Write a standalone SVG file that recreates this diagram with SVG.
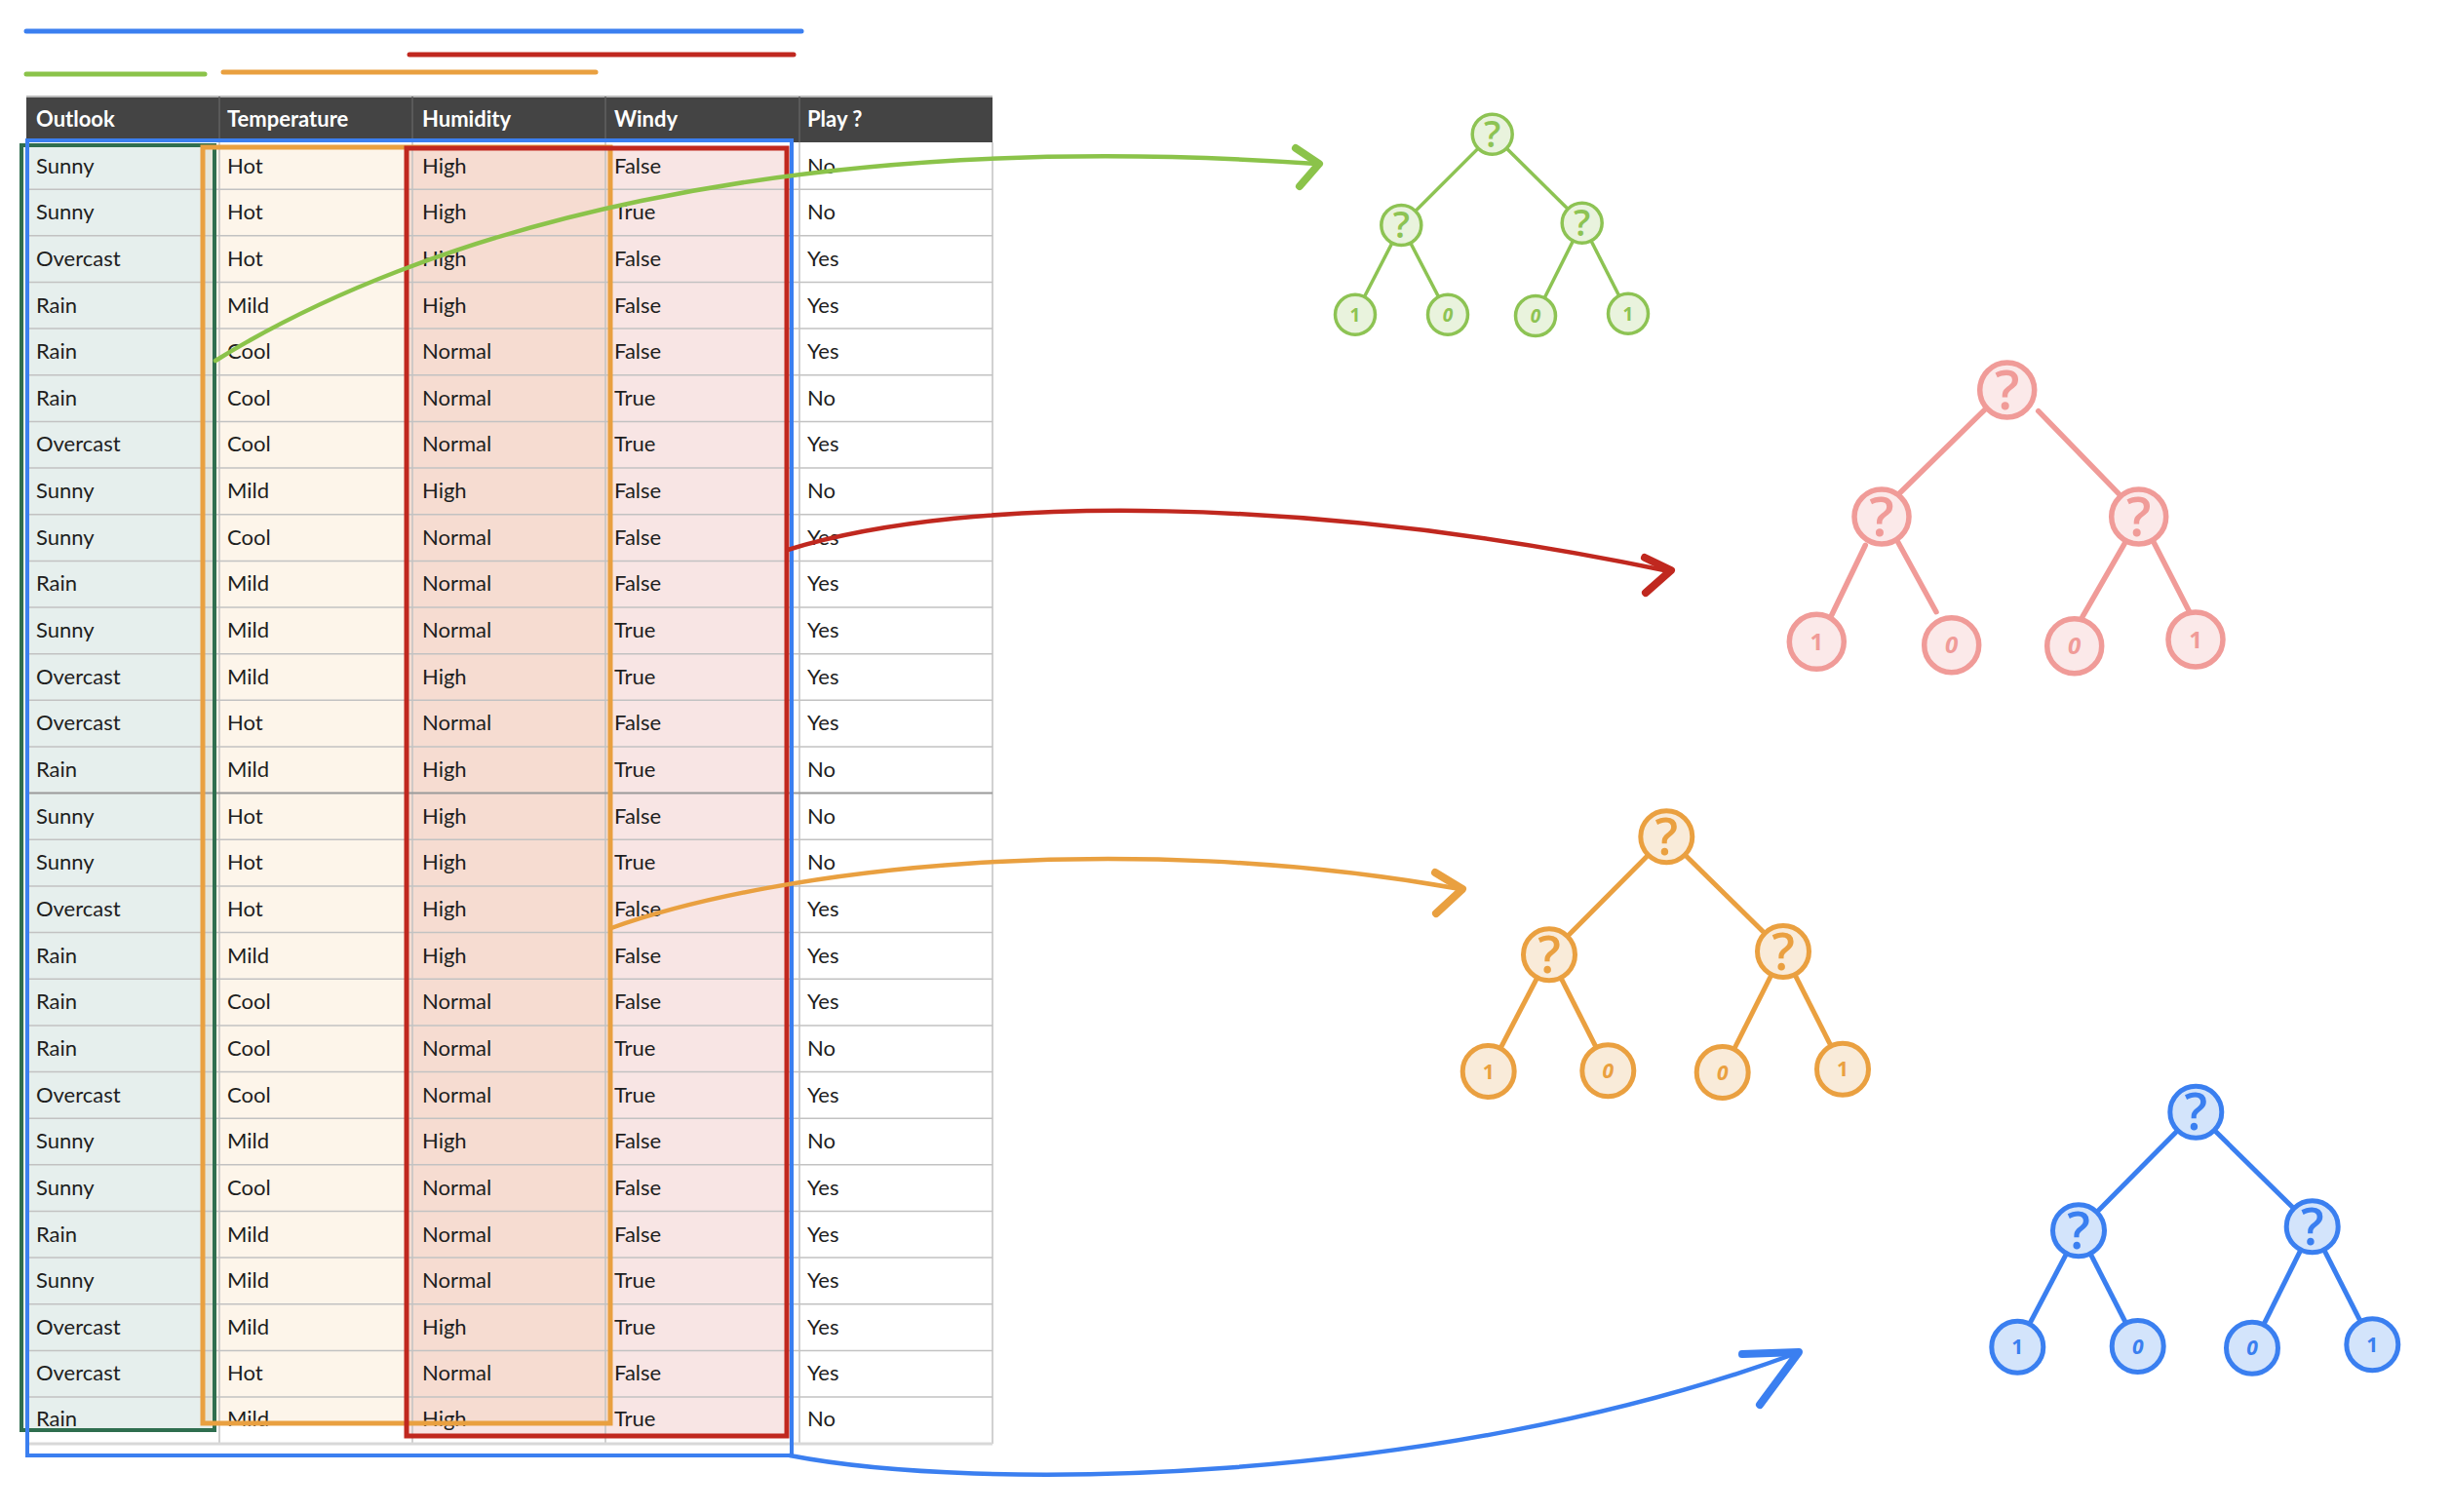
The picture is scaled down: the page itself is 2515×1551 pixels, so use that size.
<svg xmlns="http://www.w3.org/2000/svg" width="2515" height="1551" viewBox="0 0 2515 1551">
<style>
.cell{font-family:Lato,"Open Sans","Liberation Sans",sans-serif;font-size:22px;fill:#1e1e1e}
.hd{font-family:Lato,"Open Sans","Liberation Sans",sans-serif;font-size:22px;font-weight:700;fill:#ffffff}
.grid{stroke:#c2c2c2;stroke-width:1.5;fill:none}
.bar{fill:none;stroke-width:5;stroke-linecap:round}
.box{fill:none;stroke-linejoin:miter}
.curve{fill:none;stroke-width:4.5;stroke-linecap:round}
.head{fill:none;stroke-width:8;stroke-linecap:round;stroke-linejoin:round}
.t{font-family:"Open Sans","Liberation Sans",sans-serif;text-anchor:middle}
.tq{font-weight:600}
.tl{font-weight:700}
.gr circle{fill:#e9f3dd;stroke:#8dc353;stroke-width:3.5}
.gr text{fill:#8dc353}
.pk circle{fill:#fbe9e9;stroke:#f09b98;stroke-width:5.5}
.pk text{fill:#f09b98}
.or circle{fill:#f9ebd9;stroke:#eaa040;stroke-width:5}
.or text{fill:#eaa040}
.bl circle{fill:#d3e4fb;stroke:#3a7ff0;stroke-width:5}
.bl text{fill:#3a7ff0}
</style>

<rect width="2515" height="1551" fill="#ffffff"/>

<!-- top colour bars -->
<g id="bars">
<line class="bar" x1="27" y1="32" x2="822" y2="32" stroke="#3b7ff0"/>
<line class="bar" x1="420" y1="56" x2="814" y2="56" stroke="#c0281f"/>
<line class="bar" x1="27" y1="76" x2="210" y2="76" stroke="#8bc34a"/>
<line class="bar" x1="229" y1="74" x2="611" y2="74" stroke="#e9a040"/>
</g>

<g id="table">
<!-- header -->
<rect x="27" y="99" width="991" height="47" fill="#444444"/>
<line x1="27" y1="99" x2="1018" y2="99" stroke="#bbbbbb" stroke-width="2"/>
<path d="M225,99V146M423,99V146M621,99V146M820,99V146" stroke="#606060" stroke-width="1.5"/>
<text class="hd" x="37" y="130">Outlook</text>
<text class="hd" x="233" y="130">Temperature</text>
<text class="hd" x="433" y="130">Humidity</text>
<text class="hd" x="630" y="130">Windy</text>
<text class="hd" x="828" y="130">Play ?</text>

<!-- column highlight fills -->
<rect x="22" y="149" width="198" height="1318" fill="#e6efed"/>
<rect x="208" y="151" width="418" height="1309" fill="#f0a040" fill-opacity="0.11"/>
<rect x="417" y="152" width="390" height="1321" fill="#c8281e" fill-opacity="0.12"/>

<!-- grid -->
<path class="grid" d="M27,194.2H1018M27,241.8H1018M27,289.5H1018M27,337.1H1018M27,384.8H1018M27,432.4H1018M27,480.1H1018M27,527.7H1018M27,575.4H1018M27,623H1018M27,670.7H1018M27,718.3H1018M27,766H1018M27,861.3H1018M27,908.9H1018M27,956.6H1018M27,1004.2H1018M27,1051.9H1018M27,1099.5H1018M27,1147.2H1018M27,1194.8H1018M27,1242.5H1018M27,1290.1H1018M27,1337.8H1018M27,1385.4H1018M27,1433.1H1018"/>
<path class="grid" d="M27,146V1481M225,146V1481M423,146V1481M621,146V1481M820,146V1481M1018,146V1481"/>
<line x1="27" y1="813.6" x2="1018" y2="813.6" stroke="#9a9a9a" stroke-width="2"/>
<line x1="27" y1="1481" x2="1018" y2="1481" stroke="#d8d8d8" stroke-width="3"/>

<!-- rows -->
<g id="row-1"><text class="cell" x="37" y="177.5">Sunny</text><text class="cell" x="233" y="177.5">Hot</text><text class="cell" x="433" y="177.5">High</text><text class="cell" x="630" y="177.5">False</text><text class="cell" x="828" y="177.5">No</text></g>
<g id="row-2"><text class="cell" x="37" y="225.2">Sunny</text><text class="cell" x="233" y="225.2">Hot</text><text class="cell" x="433" y="225.2">High</text><text class="cell" x="630" y="225.2">True</text><text class="cell" x="828" y="225.2">No</text></g>
<g id="row-3"><text class="cell" x="37" y="272.8">Overcast</text><text class="cell" x="233" y="272.8">Hot</text><text class="cell" x="433" y="272.8">High</text><text class="cell" x="630" y="272.8">False</text><text class="cell" x="828" y="272.8">Yes</text></g>
<g id="row-4"><text class="cell" x="37" y="320.5">Rain</text><text class="cell" x="233" y="320.5">Mild</text><text class="cell" x="433" y="320.5">High</text><text class="cell" x="630" y="320.5">False</text><text class="cell" x="828" y="320.5">Yes</text></g>
<g id="row-5"><text class="cell" x="37" y="368.1">Rain</text><text class="cell" x="233" y="368.1">Cool</text><text class="cell" x="433" y="368.1">Normal</text><text class="cell" x="630" y="368.1">False</text><text class="cell" x="828" y="368.1">Yes</text></g>
<g id="row-6"><text class="cell" x="37" y="415.8">Rain</text><text class="cell" x="233" y="415.8">Cool</text><text class="cell" x="433" y="415.8">Normal</text><text class="cell" x="630" y="415.8">True</text><text class="cell" x="828" y="415.8">No</text></g>
<g id="row-7"><text class="cell" x="37" y="463.4">Overcast</text><text class="cell" x="233" y="463.4">Cool</text><text class="cell" x="433" y="463.4">Normal</text><text class="cell" x="630" y="463.4">True</text><text class="cell" x="828" y="463.4">Yes</text></g>
<g id="row-8"><text class="cell" x="37" y="511.1">Sunny</text><text class="cell" x="233" y="511.1">Mild</text><text class="cell" x="433" y="511.1">High</text><text class="cell" x="630" y="511.1">False</text><text class="cell" x="828" y="511.1">No</text></g>
<g id="row-9"><text class="cell" x="37" y="558.7">Sunny</text><text class="cell" x="233" y="558.7">Cool</text><text class="cell" x="433" y="558.7">Normal</text><text class="cell" x="630" y="558.7">False</text><text class="cell" x="828" y="558.7">Yes</text></g>
<g id="row-10"><text class="cell" x="37" y="606.4">Rain</text><text class="cell" x="233" y="606.4">Mild</text><text class="cell" x="433" y="606.4">Normal</text><text class="cell" x="630" y="606.4">False</text><text class="cell" x="828" y="606.4">Yes</text></g>
<g id="row-11"><text class="cell" x="37" y="654">Sunny</text><text class="cell" x="233" y="654">Mild</text><text class="cell" x="433" y="654">Normal</text><text class="cell" x="630" y="654">True</text><text class="cell" x="828" y="654">Yes</text></g>
<g id="row-12"><text class="cell" x="37" y="701.7">Overcast</text><text class="cell" x="233" y="701.7">Mild</text><text class="cell" x="433" y="701.7">High</text><text class="cell" x="630" y="701.7">True</text><text class="cell" x="828" y="701.7">Yes</text></g>
<g id="row-13"><text class="cell" x="37" y="749.3">Overcast</text><text class="cell" x="233" y="749.3">Hot</text><text class="cell" x="433" y="749.3">Normal</text><text class="cell" x="630" y="749.3">False</text><text class="cell" x="828" y="749.3">Yes</text></g>
<g id="row-14"><text class="cell" x="37" y="797">Rain</text><text class="cell" x="233" y="797">Mild</text><text class="cell" x="433" y="797">High</text><text class="cell" x="630" y="797">True</text><text class="cell" x="828" y="797">No</text></g>
<g id="row-15"><text class="cell" x="37" y="844.6">Sunny</text><text class="cell" x="233" y="844.6">Hot</text><text class="cell" x="433" y="844.6">High</text><text class="cell" x="630" y="844.6">False</text><text class="cell" x="828" y="844.6">No</text></g>
<g id="row-16"><text class="cell" x="37" y="892.3">Sunny</text><text class="cell" x="233" y="892.3">Hot</text><text class="cell" x="433" y="892.3">High</text><text class="cell" x="630" y="892.3">True</text><text class="cell" x="828" y="892.3">No</text></g>
<g id="row-17"><text class="cell" x="37" y="939.9">Overcast</text><text class="cell" x="233" y="939.9">Hot</text><text class="cell" x="433" y="939.9">High</text><text class="cell" x="630" y="939.9">False</text><text class="cell" x="828" y="939.9">Yes</text></g>
<g id="row-18"><text class="cell" x="37" y="987.6">Rain</text><text class="cell" x="233" y="987.6">Mild</text><text class="cell" x="433" y="987.6">High</text><text class="cell" x="630" y="987.6">False</text><text class="cell" x="828" y="987.6">Yes</text></g>
<g id="row-19"><text class="cell" x="37" y="1035.2">Rain</text><text class="cell" x="233" y="1035.2">Cool</text><text class="cell" x="433" y="1035.2">Normal</text><text class="cell" x="630" y="1035.2">False</text><text class="cell" x="828" y="1035.2">Yes</text></g>
<g id="row-20"><text class="cell" x="37" y="1082.9">Rain</text><text class="cell" x="233" y="1082.9">Cool</text><text class="cell" x="433" y="1082.9">Normal</text><text class="cell" x="630" y="1082.9">True</text><text class="cell" x="828" y="1082.9">No</text></g>
<g id="row-21"><text class="cell" x="37" y="1130.5">Overcast</text><text class="cell" x="233" y="1130.5">Cool</text><text class="cell" x="433" y="1130.5">Normal</text><text class="cell" x="630" y="1130.5">True</text><text class="cell" x="828" y="1130.5">Yes</text></g>
<g id="row-22"><text class="cell" x="37" y="1178.2">Sunny</text><text class="cell" x="233" y="1178.2">Mild</text><text class="cell" x="433" y="1178.2">High</text><text class="cell" x="630" y="1178.2">False</text><text class="cell" x="828" y="1178.2">No</text></g>
<g id="row-23"><text class="cell" x="37" y="1225.8">Sunny</text><text class="cell" x="233" y="1225.8">Cool</text><text class="cell" x="433" y="1225.8">Normal</text><text class="cell" x="630" y="1225.8">False</text><text class="cell" x="828" y="1225.8">Yes</text></g>
<g id="row-24"><text class="cell" x="37" y="1273.5">Rain</text><text class="cell" x="233" y="1273.5">Mild</text><text class="cell" x="433" y="1273.5">Normal</text><text class="cell" x="630" y="1273.5">False</text><text class="cell" x="828" y="1273.5">Yes</text></g>
<g id="row-25"><text class="cell" x="37" y="1321.1">Sunny</text><text class="cell" x="233" y="1321.1">Mild</text><text class="cell" x="433" y="1321.1">Normal</text><text class="cell" x="630" y="1321.1">True</text><text class="cell" x="828" y="1321.1">Yes</text></g>
<g id="row-26"><text class="cell" x="37" y="1368.8">Overcast</text><text class="cell" x="233" y="1368.8">Mild</text><text class="cell" x="433" y="1368.8">High</text><text class="cell" x="630" y="1368.8">True</text><text class="cell" x="828" y="1368.8">Yes</text></g>
<g id="row-27"><text class="cell" x="37" y="1416.4">Overcast</text><text class="cell" x="233" y="1416.4">Hot</text><text class="cell" x="433" y="1416.4">Normal</text><text class="cell" x="630" y="1416.4">False</text><text class="cell" x="828" y="1416.4">Yes</text></g>
<g id="row-28"><text class="cell" x="37" y="1463">Rain</text><text class="cell" x="233" y="1463">Mild</text><text class="cell" x="433" y="1463">High</text><text class="cell" x="630" y="1463">True</text><text class="cell" x="828" y="1463">No</text></g>
</g>

<!-- selection boxes -->
<g id="boxes">
<rect id="box-green" class="box" x="22" y="149" width="198" height="1318" stroke="#2f6e4f" stroke-width="4"/>
<rect id="box-orange" class="box" x="208" y="151" width="418" height="1309" stroke="#e9a040" stroke-width="5"/>
<rect id="box-red" class="box" x="417" y="152" width="390" height="1321" stroke="#c0281f" stroke-width="5"/>
<rect id="box-blue" class="box" x="28" y="144" width="784" height="1349" stroke="#3b7ff0" stroke-width="4"/>
</g>

<g id="connectors">
<!-- curved arrows -->
<path class="curve" stroke="#8bc34a" d="M221,370 C430,240 800,130 1350,168"/>
<path class="head" stroke="#8bc34a" d="M1329,152 L1353,168 L1333,191"/>
<path class="curve" stroke="#c0281f" d="M808,564 C1000,505 1350,510 1712,586"/>
<path class="head" stroke="#c0281f" stroke-width="9" d="M1687,572 L1714,585 L1688,608"/>
<path class="curve" stroke="#e9a040" d="M627,952 C800,890 1150,850 1498,912"/>
<path class="head" stroke="#e9a040" d="M1472,895 L1500,912 L1473,937"/>
<path class="curve" stroke="#3b7ff0" d="M810,1493 C1000,1530 1470,1525 1843,1388"/>
<path class="head" stroke="#3b7ff0" d="M1787,1389 L1845,1387 L1805,1441"/>

<!-- tree edges -->
<g stroke="#8dc353" stroke-width="3.5">
<line x1="1530.7" y1="137.7" x2="1437.3" y2="231"/><line x1="1530.7" y1="137.7" x2="1622.7" y2="228.7"/>
<line x1="1437.3" y1="231" x2="1390" y2="322.7"/><line x1="1437.3" y1="231" x2="1485" y2="322.7"/>
<line x1="1622.7" y1="228.7" x2="1575" y2="324"/><line x1="1622.7" y1="228.7" x2="1670" y2="321.7"/>
</g>
<g stroke="#f09b98" stroke-width="5.5" stroke-linecap="round">
<line x1="2035.3" y1="420.7" x2="1948.3" y2="506"/><line x1="2090.7" y1="421.7" x2="2173.3" y2="506.7"/>
<line x1="1913.3" y1="559.3" x2="1878.7" y2="631"/><line x1="1946.7" y1="556" x2="1986" y2="627.7"/>
<line x1="2179.3" y1="557.3" x2="2136" y2="632.7"/><line x1="2209.3" y1="556.7" x2="2248.3" y2="632.7"/>
</g>
<g stroke="#eaa040" stroke-width="5">
<line x1="1709.3" y1="858.3" x2="1589" y2="979.3"/><line x1="1709.3" y1="858.3" x2="1829" y2="976"/>
<line x1="1589" y1="979.3" x2="1526.7" y2="1099"/><line x1="1589" y1="979.3" x2="1649.3" y2="1098.3"/>
<line x1="1829" y1="976" x2="1766.7" y2="1100"/><line x1="1829" y1="976" x2="1890" y2="1096.7"/>
</g>
<g stroke="#3a7ff0" stroke-width="5">
<line x1="2252.3" y1="1140.7" x2="2132" y2="1262.3"/><line x1="2252.3" y1="1140.7" x2="2371.7" y2="1258.3"/>
<line x1="2132" y1="1262.3" x2="2069.3" y2="1381.7"/><line x1="2132" y1="1262.3" x2="2192.7" y2="1381"/>
<line x1="2371.7" y1="1258.3" x2="2310" y2="1382.7"/><line x1="2371.7" y1="1258.3" x2="2433.3" y2="1379.3"/>
</g>
</g>

<!-- green tree -->
<g id="green-root" class="gr"><circle cx="1530.7" cy="137.7" r="20.5"/><text class="t tq" x="1530.7" y="151" font-size="38">?</text></g>
<g id="green-left" class="gr"><circle cx="1437.3" cy="231" r="20.5"/><text class="t tq" x="1437.3" y="244.3" font-size="38">?</text></g>
<g id="green-right" class="gr"><circle cx="1622.7" cy="228.7" r="20.5"/><text class="t tq" x="1622.7" y="242" font-size="38">?</text></g>
<g id="green-leaf-1" class="gr"><circle cx="1390" cy="322.7" r="20.5"/><text class="t tl" x="1390" y="329.5" font-size="19">1</text></g>
<g id="green-leaf-2" class="gr"><circle cx="1485" cy="322.7" r="20.5"/><text class="t tl" x="1485" y="329.5" font-size="19" font-style="italic">0</text></g>
<g id="green-leaf-3" class="gr"><circle cx="1575" cy="324" r="20.5"/><text class="t tl" x="1575" y="330.8" font-size="19" font-style="italic">0</text></g>
<g id="green-leaf-4" class="gr"><circle cx="1670" cy="321.7" r="20.5"/><text class="t tl" x="1670" y="328.5" font-size="19">1</text></g>

<!-- pink tree -->
<g id="pink-root" class="pk"><circle cx="2058.7" cy="400" r="28"/><text class="t tq" x="2058.7" y="420" font-size="56">?</text></g>
<g id="pink-left" class="pk"><circle cx="1930" cy="530" r="28"/><text class="t tq" x="1930" y="550" font-size="56">?</text></g>
<g id="pink-right" class="pk"><circle cx="2193.7" cy="530" r="28"/><text class="t tq" x="2193.7" y="550" font-size="56">?</text></g>
<g id="pink-leaf-1" class="pk"><circle cx="1863.3" cy="658.3" r="28"/><text class="t tl" x="1863.3" y="666.8" font-size="24">1</text></g>
<g id="pink-leaf-2" class="pk"><circle cx="2001.7" cy="661.7" r="28"/><text class="t tl" x="2001.7" y="670.2" font-size="24" font-style="italic">0</text></g>
<g id="pink-leaf-3" class="pk"><circle cx="2127.7" cy="662.7" r="28"/><text class="t tl" x="2127.7" y="671.2" font-size="24" font-style="italic">0</text></g>
<g id="pink-leaf-4" class="pk"><circle cx="2252" cy="656" r="28"/><text class="t tl" x="2252" y="664.5" font-size="24">1</text></g>

<!-- orange tree -->
<g id="orange-root" class="or"><circle cx="1709.3" cy="858.3" r="26.5"/><text class="t tq" x="1709.3" y="877" font-size="52">?</text></g>
<g id="orange-left" class="or"><circle cx="1589" cy="979.3" r="26.5"/><text class="t tq" x="1589" y="998" font-size="52">?</text></g>
<g id="orange-right" class="or"><circle cx="1829" cy="976" r="26.5"/><text class="t tq" x="1829" y="994.7" font-size="52">?</text></g>
<g id="orange-leaf-1" class="or"><circle cx="1526.7" cy="1099" r="26.5"/><text class="t tl" x="1526.7" y="1106.5" font-size="21">1</text></g>
<g id="orange-leaf-2" class="or"><circle cx="1649.3" cy="1098.3" r="26.5"/><text class="t tl" x="1649.3" y="1105.8" font-size="21" font-style="italic">0</text></g>
<g id="orange-leaf-3" class="or"><circle cx="1766.7" cy="1100" r="26.5"/><text class="t tl" x="1766.7" y="1107.5" font-size="21" font-style="italic">0</text></g>
<g id="orange-leaf-4" class="or"><circle cx="1890" cy="1096.7" r="26.5"/><text class="t tl" x="1890" y="1104.2" font-size="21">1</text></g>

<!-- blue tree -->
<g id="blue-root" class="bl"><circle cx="2252.3" cy="1140.7" r="26.5"/><text class="t tq" x="2252.3" y="1159.4" font-size="52">?</text></g>
<g id="blue-left" class="bl"><circle cx="2132" cy="1262.3" r="26.5"/><text class="t tq" x="2132" y="1281" font-size="52">?</text></g>
<g id="blue-right" class="bl"><circle cx="2371.7" cy="1258.3" r="26.5"/><text class="t tq" x="2371.7" y="1277" font-size="52">?</text></g>
<g id="blue-leaf-1" class="bl"><circle cx="2069.3" cy="1381.7" r="26.5"/><text class="t tl" x="2069.3" y="1389.2" font-size="21">1</text></g>
<g id="blue-leaf-2" class="bl"><circle cx="2192.7" cy="1381" r="26.5"/><text class="t tl" x="2192.7" y="1388.5" font-size="21" font-style="italic">0</text></g>
<g id="blue-leaf-3" class="bl"><circle cx="2310" cy="1382.7" r="26.5"/><text class="t tl" x="2310" y="1390.2" font-size="21" font-style="italic">0</text></g>
<g id="blue-leaf-4" class="bl"><circle cx="2433.3" cy="1379.3" r="26.5"/><text class="t tl" x="2433.3" y="1386.8" font-size="21">1</text></g>
</svg>
